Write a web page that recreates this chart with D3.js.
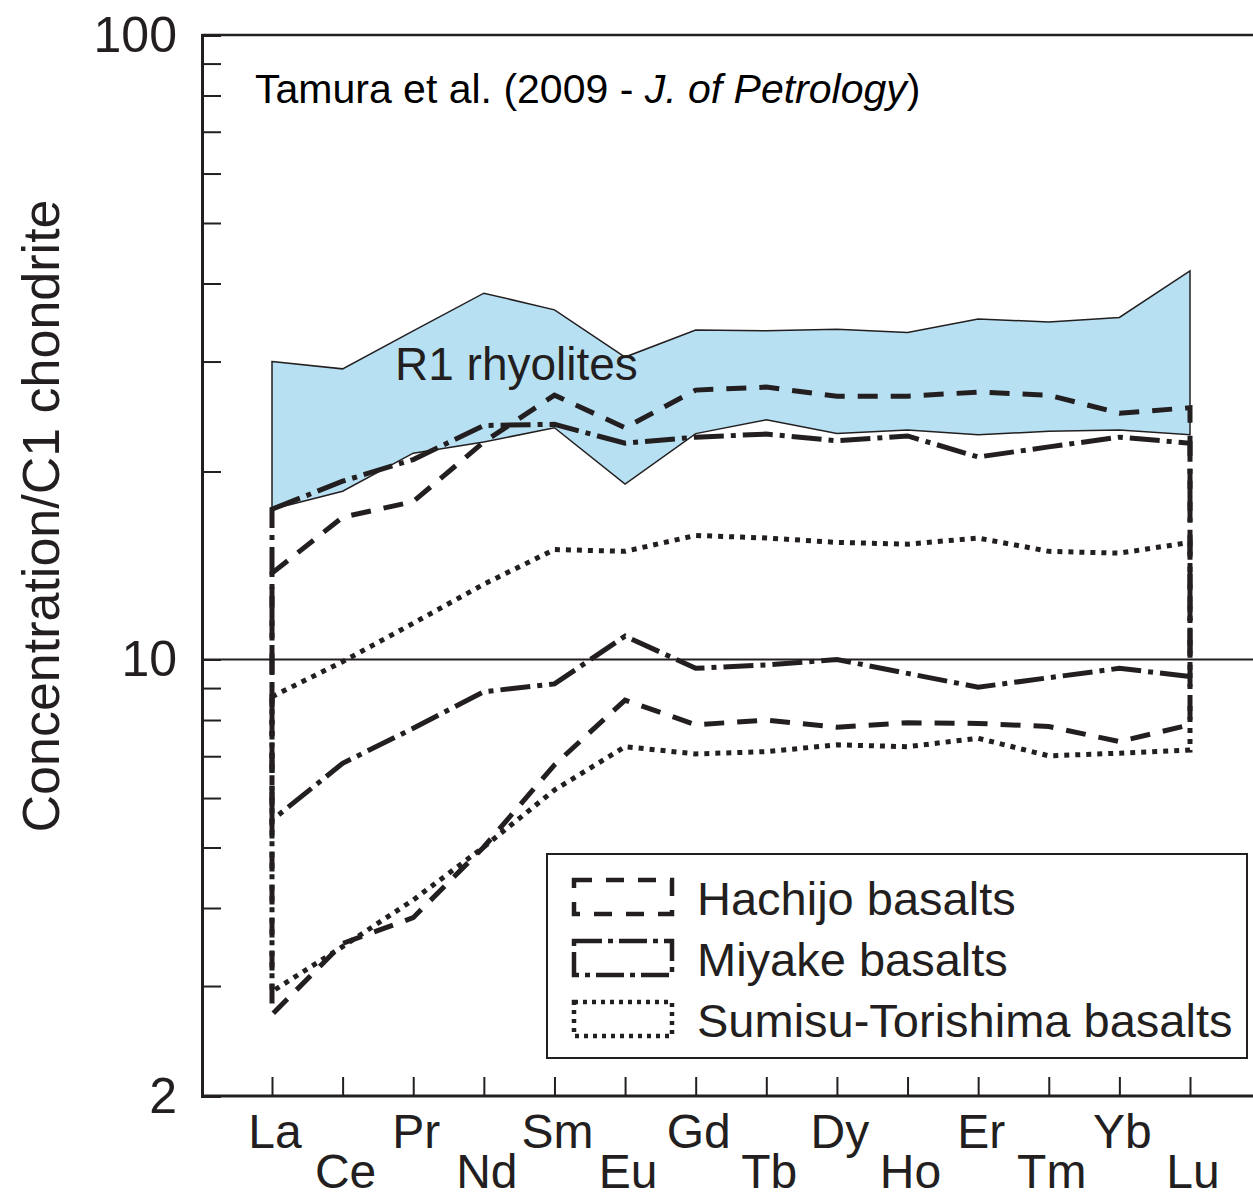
<!DOCTYPE html>
<html>
<head>
<meta charset="utf-8">
<script src="https://cdn.jsdelivr.net/npm/d3@7"></script>
<style>
  html, body { margin: 0; padding: 0; background: #fff; }
  svg { display: block; font-family: "Liberation Sans", Arial, Helvetica, sans-serif; }
</style>
</head>
<body>
<svg id="chart" width="1253" height="1197"></svg>
<script>
// ---------------- data ----------------
const elements = ["La","Ce","Pr","Nd","Sm","Eu","Gd","Tb","Dy","Ho","Er","Tm","Yb","Lu"];
const yTicksLabelled = [2, 10, 100];
const yTicksMinor = [3,4,5,6,7,8,9,20,30,40,50,60,70,80,90];

// R1 rhyolites envelope (filled band)
const rhyoliteUpper = [30.0, 29.2, 33.6, 38.6, 36.3, 30.5, 33.7, 33.6, 33.8, 33.4, 35.1, 34.7, 35.3, 41.9];
const rhyoliteLower = [17.4, 18.6, 21.4, 22.3, 23.5, 19.1, 23.0, 24.2, 23.0, 23.3, 22.9, 23.2, 23.3, 22.9];

// Hachijo basalts (dashed envelope)
const hachijoUpper = [13.75, 16.9, 17.9, 22.3, 26.5, 23.5, 27.0, 27.3, 26.4, 26.4, 26.8, 26.5, 24.8, 25.3];
const hachijoLower = [2.70, 3.51, 3.86, 5.01, 6.78, 8.61, 7.86, 8.0, 7.79, 7.92, 7.9, 7.81, 7.39, 7.86];

// Miyake basalts (dash-dot envelope)
const miyakeUpper = [17.4, 19.3, 20.9, 23.7, 23.8, 22.2, 22.7, 22.96, 22.4, 22.8, 21.1, 21.9, 22.7, 22.2];
const miyakeLower = [5.53, 6.82, 7.76, 8.88, 9.14, 10.9, 9.68, 9.8, 10.0, 9.5, 9.03, 9.35, 9.68, 9.39];

// Sumisu-Torishima basalts (dotted envelope)
const sumisuUpper = [8.72, 9.92, 11.43, 13.2, 15.0, 14.9, 15.8, 15.65, 15.4, 15.3, 15.65, 14.9, 14.8, 15.4];
const sumisuLower = [2.94, 3.47, 4.12, 5.01, 6.18, 7.25, 7.06, 7.12, 7.3, 7.25, 7.48, 7.01, 7.08, 7.16];

const legendLabels = ["Hachijo basalts", "Miyake basalts", "Sumisu-Torishima basalts"];

// ---------------- drawing ----------------
const INK = "#231f20";
const svg = d3.select("#chart");

const x = d3.scalePoint().domain(elements).range([272, 1190]);
const y = d3.scaleLog().domain([2, 100]).range([1096, 35]);

const plotL = 202, plotR = 1253, plotT = 35, plotB = 1096;

const envelope = (upper, lower) => {
  const pts = elements.map((e, i) => [x(e), y(upper[i])])
    .concat(elements.map((e, i) => [x(e), y(lower[i])]).reverse());
  return d3.line()(pts) + "Z";
};

// R1 rhyolite band
svg.append("path")
  .attr("d", envelope(rhyoliteUpper, rhyoliteLower))
  .attr("fill", "#b7e1f3")
  .attr("stroke", INK)
  .attr("stroke-width", 1.5)
  .attr("stroke-linejoin", "miter");

// 10 reference line
svg.append("line")
  .attr("x1", plotL).attr("x2", plotR)
  .attr("y1", y(10)).attr("y2", y(10))
  .attr("stroke", INK).attr("stroke-width", 2);

// basalt envelopes
const series = [
  { upper: hachijoUpper, lower: hachijoLower, dash: "20,13", legendDash: "18,14" },
  { upper: miyakeUpper, lower: miyakeLower, dash: "30,7,5,7", legendDash: "28,6,5,6" },
  { upper: sumisuUpper, lower: sumisuLower, dash: "5,6", legendDash: "4,5" }
];
series.forEach(s => {
  svg.append("path")
    .attr("d", envelope(s.upper, s.lower))
    .attr("fill", "none")
    .attr("stroke", INK)
    .attr("stroke-width", 5)
    .attr("stroke-dasharray", s.dash)
    .attr("stroke-linejoin", "miter");
});

// top frame line
svg.append("line").attr("x1", plotL).attr("x2", plotR).attr("y1", plotT).attr("y2", plotT)
  .attr("stroke", INK).attr("stroke-width", 2.5);

// Left axis
const yAxis = d3.axisLeft(y)
  .tickValues(yTicksLabelled.concat(yTicksMinor))
  .tickSize(-19)
  .tickPadding(25)
  .tickFormat(d => yTicksLabelled.includes(d) ? String(d) : "");
const gy = svg.append("g").attr("transform", `translate(${plotL},0)`).call(yAxis);
gy.select(".domain").attr("stroke", INK).attr("stroke-width", 3);
gy.selectAll(".tick line").attr("stroke", INK).attr("stroke-width", 2);
gy.selectAll(".tick text").attr("fill", INK).attr("font-size", 50)
  .attr("font-family", "'Liberation Sans', Arial, sans-serif");

// Bottom axis
const xAxis = d3.axisBottom(x).tickSize(-19).tickFormat("");
const gx = svg.append("g").attr("transform", `translate(0,${plotB})`).call(xAxis);
gx.select(".domain").attr("d", `M${plotL},0H${plotR}`).attr("stroke", INK).attr("stroke-width", 3);
gx.selectAll(".tick line").attr("stroke", INK).attr("stroke-width", 2);

// staggered element labels
svg.append("g").selectAll("text")
  .data(elements)
  .join("text")
  .attr("x", d => x(d) + 3)
  .attr("y", (d, i) => i % 2 === 0 ? 1148 : 1188)
  .attr("text-anchor", "middle")
  .attr("font-size", 48)
  .attr("fill", INK)
  .text(d => d);

// Y axis title
svg.append("text")
  .attr("transform", "translate(59,516) rotate(-90)")
  .attr("text-anchor", "middle")
  .attr("font-size", 52)
  .attr("fill", INK)
  .text("Concentration/C1 chondrite");

// citation
const cite = svg.append("text").attr("x", 255).attr("y", 103).attr("font-size", 41).attr("fill", "#000");
cite.append("tspan").text("Tamura et al. (2009 - ");
cite.append("tspan").attr("font-style", "italic").text("J. of Petrology");
cite.append("tspan").text(")");

// band label
svg.append("text").attr("x", 395).attr("y", 380).attr("font-size", 46).attr("fill", INK)
  .text("R1 rhyolites");

// legend
const lg = svg.append("g");
lg.append("rect").attr("x", 547).attr("y", 854).attr("width", 700).attr("height", 204)
  .attr("fill", "#fff").attr("stroke", INK).attr("stroke-width", 2);
legendLabels.forEach((lab, i) => {
  const yy = 880 + i * 61;
  lg.append("rect").attr("x", 574).attr("y", yy).attr("width", 98).attr("height", 34)
    .attr("fill", "none").attr("stroke", INK).attr("stroke-width", 4.5)
    .attr("stroke-dasharray", series[i].legendDash);
  lg.append("text").attr("x", 697).attr("y", yy + 35).attr("font-size", 47).attr("fill", INK).text(lab);
});
</script>
</body>
</html>
